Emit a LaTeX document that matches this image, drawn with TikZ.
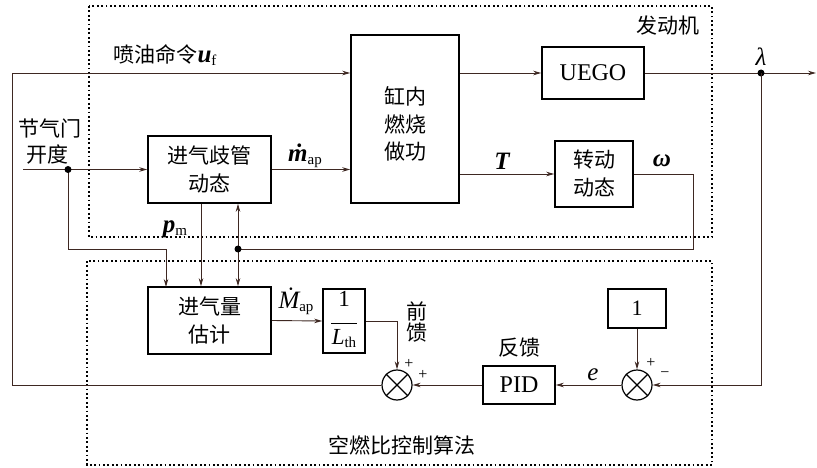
\RequirePackage{fix-cm}
\documentclass[tikz,border=0pt]{standalone}
\usepackage{fontspec}
\setmainfont{Liberation Serif}
\newfontfamily\cjk{Noto Sans CJK SC}
\usetikzlibrary{arrows.meta,calc}
\definecolor{lc}{RGB}{62,40,34}
\newcommand\sbx[1]{\raisebox{-3pt}{\rmfamily\mdseries\upshape\fontsize{15}{15}\selectfont #1}}
\newcommand\bi[1]{{\rmfamily\bfseries\itshape #1}}
\newcommand\ii[1]{{\rmfamily\itshape #1}}
\tikzset{
  blk/.style={draw=black,line width=1.6pt,rectangle,inner sep=0pt,align=center,font=\cjk\fontsize{21}{28}\selectfont},
  sumc/.style={draw=black,line width=1.2pt,circle,minimum size=30pt,inner sep=0pt},
  con/.style={draw=lc,line width=0.9pt},
  arr/.style={con,-{Stealth[length=8pt,width=4.5pt]}},
  dotbox/.style={draw=black,line width=1.8pt,dash pattern=on 1.8pt off 2.6pt},
  lbl/.style={inner sep=0pt,font=\cjk\fontsize{21}{24}\selectfont},
  mlbl/.style={inner sep=0pt,font=\fontsize{25}{26}\selectfont},
  pm/.style={inner sep=0pt,font=\fontsize{16}{18}\selectfont},
  jdot/.style={circle,fill=black,inner sep=0pt,minimum size=7pt}
}
\begin{document}
\begin{tikzpicture}[x=1pt,y=-1pt]
\useasboundingbox (0,0) rectangle (817,468);
% dotted boxes
\draw[dotbox] (89,6) rectangle (712,237);
\draw[dotbox] (87,261) rectangle (712,465);
% blocks
\node[blk,minimum width=108pt,minimum height=168pt] (cyl) at (405,119) {};
\node[blk,draw=none,font=\cjk\fontsize{21}{27.5}\selectfont] (cyltxt) at (405,124) {缸内\\燃烧\\做功};
\node[blk,minimum width=102pt,minimum height=52pt,font=\fontsize{24}{28}\selectfont] (uego) at (593,73) {UEGO};
\node[blk,minimum width=123pt,minimum height=67pt] (intake) at (209.5,169.5) {进气歧管\\动态};
\node[blk,minimum width=78pt,minimum height=66pt] (rot) at (594,174) {转动\\动态};
\node[blk,minimum width=123pt,minimum height=67pt] (est) at (209.5,320.5) {进气量\\估计};
\node[blk,minimum width=42pt,minimum height=64pt,font=\fontsize{23}{24}\selectfont] (lth) at (344,321)
  {\begin{tabular}{@{}c@{}}1\\[-7pt]\rule{26pt}{0.8pt}\\[-3pt]\ii{L}\sbx{th}\end{tabular}};
\node[blk,minimum width=58pt,minimum height=39pt,font=\fontsize{22}{24}\selectfont] (one) at (637,308.5) {1};
\node[blk,minimum width=72pt,minimum height=38pt,font=\fontsize{24}{28}\selectfont] (pid) at (519,385) {PID};
\node[sumc] (sum1) at (397,385) {};
\node[sumc] (sum2) at (637,385) {};
\foreach \s in {sum1,sum2}{
  \draw[black,line width=1.2pt] (\s.north west) -- (\s.south east) (\s.north east) -- (\s.south west);
}
% coordinates
\coordinate (lft) at (12,73);
\coordinate (lam) at (761,73);
\coordinate (outp) at (816,73);
\coordinate (thrin) at (23,169.5);
\coordinate (thr) at (68,169.5);
\coordinate (j) at (238,249);
\coordinate (e1) at (166,287);
\coordinate (pmx) at (201,0);
\coordinate (wc) at (693,249);
% connectors
\draw[arr] (sum1.west) -| (lft) -- (cyl.west |- lft);
\draw[arr] (cyl.east |- uego.west) -- (uego.west);
\draw[con] (uego.east) -- (lam);
\draw[arr] (lam) -- (outp);
\node[jdot] (lamdot) at (lam) {};
\draw[arr] (lam) |- (sum2.east);
\draw[arr] (one.south) -- (sum2.north);
\draw[arr] (sum2.west) -- (pid.east);
\draw[arr] (pid.west) -- (sum1.east);
\draw[arr] (lth.east) -| (sum1.north);
\draw[arr] (est.east) -- (lth.west);
\draw[arr] (thrin) -- (intake.west);
\draw[arr] (thr) |- (e1 |- j) -- (e1);
\node[jdot] (thrdot) at (thr) {};
\draw[arr] (intake.south -| pmx) -- (est.north -| pmx);
\draw[con] (rot.east) -| (wc) -- (j);
\draw[arr] (j) -- (intake.south -| j);
\draw[arr] (j) -- (est.north -| j);
\node[jdot] (jdot1) at (j) {};
\draw[arr] (intake.east) -- (cyl.west |- intake.east);
\draw[arr] (cyl.east |- rot.west) -- (rot.west);
% labels
\node[lbl,anchor=base] (luf) at (165,63) {喷油命令{\fontsize{25}{26}\selectfont\bi{u}\sbx{f}}};
\node[lbl] (lthr1) at (50,128) {节气门};
\node[lbl] (lthr2) at (48,155) {开度};
\node[mlbl,anchor=base] (lmap) at (305,162) {\bi{ṁ}\sbx{ap}};
\node[mlbl,anchor=base] (lpm) at (175,232) {\bi{p}\sbx{m}};
\node[mlbl,anchor=base] (lT) at (502,170) {\bi{T}};
\node[mlbl,anchor=base] (lw) at (662,167) {\bi{ω}};
\node[mlbl,anchor=base] (llam) at (761,66) {\ii{λ}};
\node[lbl] (leng) at (668,26) {发动机};
\node[mlbl,anchor=base] (lMap) at (296,308) {\ii{Ṁ}\sbx{ap}};
\node[lbl] (lff1) at (417,311) {前};
\node[lbl] (lff2) at (417,333) {馈};
\node[pm] (p1) at (409,364) {+};
\node[pm] (p2) at (423,375) {+};
\node[lbl] (lfb) at (519,348) {反馈};
\node[mlbl,anchor=base] (le) at (593,380) {\ii{e}};
\node[pm] (p3) at (651,363) {+};
\node[pm] (p4) at (665,375) {−};
\node[lbl] (lctl) at (402,445) {空燃比控制算法};
\end{tikzpicture}
\end{document}
